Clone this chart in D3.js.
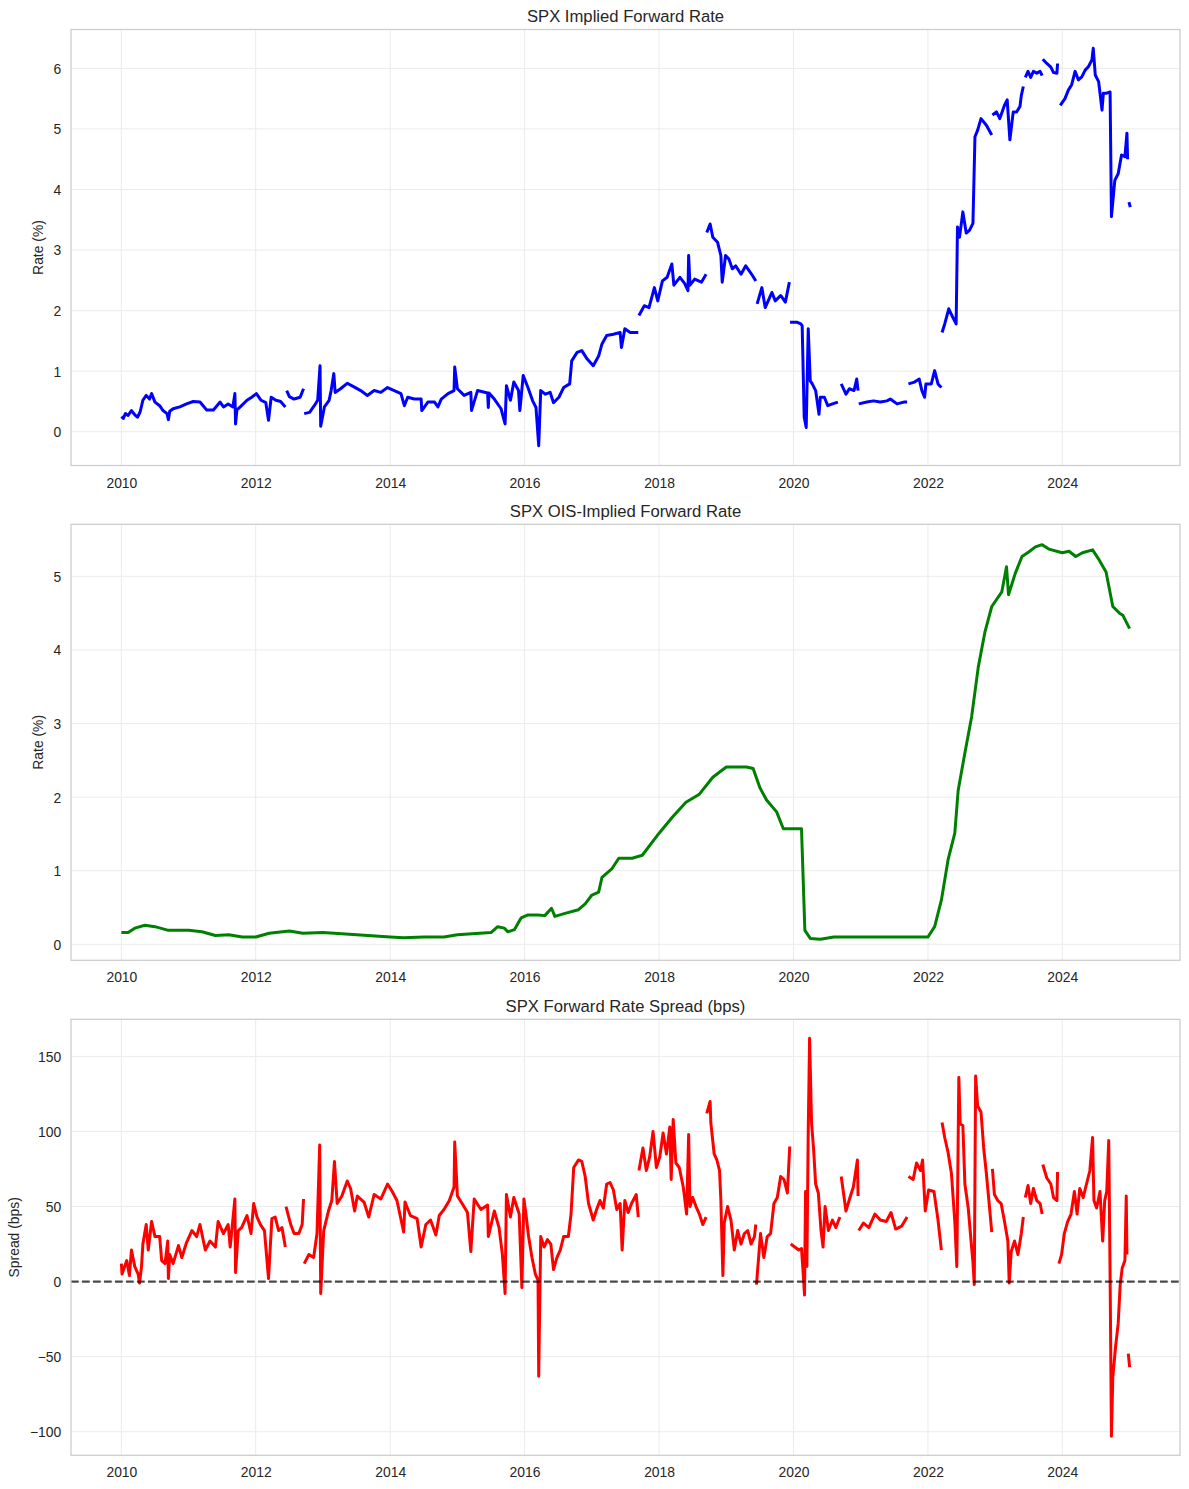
<!DOCTYPE html>
<html>
<head>
<meta charset="utf-8">
<script src="https://cdn.jsdelivr.net/npm/d3@7/dist/d3.min.js"></script>
<style>
  html, body { margin: 0; padding: 0; background: #ffffff; }
  svg { display: block; font-family: "Liberation Sans", Arial, "DejaVu Sans", sans-serif; }
</style>
</head>
<body>
<svg id="chart" width="1189" height="1489"></svg>
<script>
// decimal year, value; null value = gap in the series
var impliedRate = [
  [2010.00,0.25],[2010.03,0.22],[2010.06,0.30],[2010.10,0.27],[2010.15,0.35],[2010.20,0.28],[2010.24,0.24],
  [2010.28,0.33],[2010.32,0.52],[2010.37,0.60],[2010.42,0.54],[2010.45,0.63],[2010.50,0.49],[2010.57,0.43],
  [2010.62,0.35],[2010.68,0.30],[2010.70,0.20],[2010.72,0.34],[2010.77,0.38],[2010.87,0.41],[2010.97,0.46],
  [2011.07,0.50],[2011.17,0.49],[2011.27,0.36],[2011.37,0.36],[2011.47,0.49],[2011.52,0.41],[2011.59,0.46],
  [2011.66,0.41],[2011.69,0.63],[2011.70,0.13],[2011.72,0.36],[2011.77,0.41],[2011.87,0.52],[2011.94,0.57],
  [2012.01,0.63],[2012.08,0.52],[2012.15,0.48],[2012.19,0.19],[2012.23,0.57],[2012.30,0.52],[2012.37,0.50],
  [2012.44,0.41],[2012.445,null],
  [2012.46,0.68],[2012.50,0.58],[2012.57,0.54],[2012.66,0.57],[2012.71,0.71],[2012.715,null],
  [2012.72,0.30],[2012.80,0.32],[2012.87,0.43],[2012.92,0.52],[2012.955,1.09],[2012.965,0.09],[2013.02,0.41],
  [2013.09,0.52],[2013.12,0.68],[2013.16,0.96],[2013.18,0.65],[2013.26,0.71],[2013.36,0.80],[2013.46,0.74],
  [2013.56,0.68],[2013.66,0.60],[2013.76,0.68],[2013.86,0.65],[2013.96,0.73],[2014.06,0.68],[2014.16,0.63],
  [2014.21,0.43],[2014.26,0.57],[2014.36,0.54],[2014.46,0.54],[2014.47,0.35],[2014.56,0.49],[2014.66,0.49],
  [2014.71,0.41],[2014.76,0.54],[2014.86,0.63],[2014.95,0.68],[2014.96,1.07],[2015.00,0.71],[2015.10,0.60],
  [2015.20,0.65],[2015.21,0.35],[2015.30,0.68],[2015.45,0.64],[2015.46,0.40],[2015.47,0.64],[2015.55,0.54],
  [2015.65,0.38],[2015.71,0.13],[2015.73,0.76],[2015.79,0.52],[2015.84,0.82],[2015.91,0.68],[2015.93,0.35],
  [2015.98,0.93],[2016.05,0.73],[2016.12,0.51],[2016.17,0.40],[2016.21,-0.23],[2016.24,0.68],[2016.31,0.62],
  [2016.38,0.65],[2016.43,0.48],[2016.51,0.57],[2016.58,0.73],[2016.67,0.79],[2016.70,1.17],[2016.78,1.31],
  [2016.85,1.34],[2016.93,1.20],[2017.02,1.09],[2017.10,1.25],[2017.15,1.45],[2017.22,1.59],[2017.32,1.61],
  [2017.42,1.64],[2017.44,1.39],[2017.49,1.70],[2017.57,1.64],[2017.69,1.64],[2017.695,null],
  [2017.70,1.92],[2017.78,2.08],[2017.85,2.05],[2017.93,2.38],[2017.98,2.16],[2018.05,2.49],[2018.12,2.55],
  [2018.19,2.77],[2018.22,2.42],[2018.31,2.55],[2018.38,2.45],[2018.43,2.33],[2018.44,2.91],[2018.46,2.42],
  [2018.53,2.52],[2018.63,2.47],[2018.70,2.60],[2018.705,null],
  [2018.71,3.29],[2018.76,3.43],[2018.80,3.21],[2018.87,3.13],[2018.92,2.91],[2018.94,2.47],[2018.99,2.91],
  [2019.04,2.85],[2019.09,2.69],[2019.14,2.74],[2019.22,2.60],[2019.29,2.74],[2019.34,2.66],[2019.39,2.58],
  [2019.44,2.49],[2019.45,null],
  [2019.46,2.11],[2019.53,2.38],[2019.58,2.05],[2019.68,2.30],[2019.73,2.16],[2019.81,2.25],[2019.88,2.14],
  [2019.94,2.47],[2019.945,null],
  [2019.95,1.81],[2020.05,1.81],[2020.11,1.78],[2020.13,1.75],[2020.16,0.24],[2020.19,0.07],[2020.22,1.70],
  [2020.25,0.84],[2020.28,0.79],[2020.33,0.68],[2020.38,0.29],[2020.40,0.57],[2020.46,0.57],[2020.51,0.43],
  [2020.58,0.46],[2020.66,0.49],[2020.68,null],
  [2020.71,0.79],[2020.78,0.62],[2020.83,0.71],[2020.90,0.68],[2020.94,0.87],[2020.96,0.68],[2020.965,null],
  [2020.97,0.46],[2021.09,0.49],[2021.19,0.51],[2021.29,0.49],[2021.39,0.51],[2021.44,0.54],[2021.54,0.46],
  [2021.64,0.49],[2021.69,0.49],[2021.70,null],
  [2021.71,0.79],[2021.80,0.82],[2021.87,0.87],[2021.91,0.68],[2021.95,0.57],[2021.97,0.79],[2022.05,0.79],
  [2022.10,1.01],[2022.15,0.79],[2022.20,0.73],[2022.205,null],
  [2022.21,1.64],[2022.25,1.78],[2022.31,2.03],[2022.37,1.89],[2022.42,1.78],[2022.44,3.38],[2022.47,3.21],
  [2022.52,3.63],[2022.57,3.28],[2022.62,3.33],[2022.67,3.44],[2022.70,4.87],[2022.74,4.98],[2022.79,5.17],
  [2022.87,5.06],[2022.95,4.90],[2022.955,null],
  [2022.96,5.23],[2023.02,5.28],[2023.07,5.17],[2023.14,5.39],[2023.18,5.48],[2023.22,4.82],[2023.27,5.28],
  [2023.32,5.28],[2023.37,5.37],[2023.39,5.55],[2023.42,5.70],[2023.435,null],
  [2023.45,5.85],[2023.49,5.95],[2023.53,5.85],[2023.57,5.95],[2023.62,5.92],[2023.67,5.95],[2023.70,5.88],
  [2023.705,null],
  [2023.71,6.15],[2023.77,6.08],[2023.83,6.02],[2023.87,5.93],[2023.92,5.92],[2023.93,6.08],[2023.94,null],
  [2023.97,5.39],[2024.04,5.50],[2024.09,5.64],[2024.14,5.73],[2024.19,5.95],[2024.24,5.81],[2024.29,5.86],
  [2024.34,5.97],[2024.39,6.03],[2024.44,6.14],[2024.46,6.33],[2024.49,5.89],[2024.54,5.78],[2024.59,5.31],
  [2024.61,5.59],[2024.66,5.59],[2024.71,5.61],[2024.73,3.55],[2024.78,4.15],[2024.83,4.26],[2024.88,4.57],
  [2024.93,4.54],[2024.96,4.93],[2024.97,4.50],[2024.98,null],
  [2024.99,3.79],[2025.01,3.71]
];

var oisRate = [
  [2010.00,0.16],[2010.10,0.16],[2010.20,0.22],[2010.35,0.26],[2010.50,0.24],[2010.70,0.19],[2010.85,0.19],
  [2011.00,0.19],[2011.20,0.17],[2011.40,0.12],[2011.60,0.13],[2011.80,0.10],[2012.00,0.10],[2012.20,0.15],
  [2012.50,0.18],[2012.70,0.15],[2013.00,0.16],[2013.50,0.13],[2014.00,0.10],[2014.20,0.09],[2014.50,0.10],
  [2014.80,0.10],[2015.00,0.13],[2015.50,0.16],[2015.60,0.24],[2015.70,0.22],[2015.75,0.17],[2015.85,0.20],
  [2015.95,0.36],[2016.05,0.40],[2016.20,0.40],[2016.30,0.39],[2016.40,0.49],[2016.45,0.38],[2016.60,0.42],
  [2016.80,0.47],[2016.90,0.55],[2017.00,0.67],[2017.10,0.71],[2017.15,0.91],[2017.30,1.03],[2017.40,1.17],
  [2017.60,1.17],[2017.75,1.21],[2018.00,1.51],[2018.20,1.73],[2018.40,1.93],[2018.60,2.04],[2018.80,2.27],
  [2019.00,2.41],[2019.30,2.41],[2019.40,2.39],[2019.50,2.13],[2019.60,1.96],[2019.75,1.80],[2019.85,1.57],
  [2020.00,1.57],[2020.12,1.57],[2020.17,0.19],[2020.25,0.08],[2020.40,0.07],[2020.60,0.10],[2021.00,0.10],
  [2021.50,0.10],[2022.00,0.10],[2022.10,0.24],[2022.20,0.60],[2022.30,1.15],[2022.40,1.51],[2022.45,2.09],
  [2022.55,2.60],[2022.65,3.09],[2022.75,3.77],[2022.85,4.25],[2022.95,4.59],[2023.10,4.79],[2023.17,5.13],
  [2023.20,4.75],[2023.30,5.04],[2023.40,5.27],[2023.50,5.33],[2023.60,5.40],[2023.70,5.43],[2023.80,5.37],
  [2024.00,5.32],[2024.10,5.34],[2024.20,5.27],[2024.30,5.32],[2024.45,5.36],[2024.55,5.22],[2024.65,5.06],
  [2024.75,4.59],[2024.85,4.50],[2024.90,4.47],[2025.00,4.29]
];

var spreadBps = [
  [2010.00,12],[2010.01,5],[2010.08,14],[2010.12,4],[2010.15,21],[2010.20,10],[2010.25,5],[2010.27,-1],
  [2010.30,10],[2010.32,25],[2010.37,38],[2010.40,21],[2010.45,40],[2010.50,30],[2010.57,30],[2010.60,14],
  [2010.65,12],[2010.69,27],[2010.70,2],[2010.72,18],[2010.77,12],[2010.85,24],[2010.90,16],[2010.97,26],
  [2011.05,34],[2011.12,30],[2011.17,38],[2011.25,21],[2011.32,27],[2011.40,23],[2011.44,40],[2011.52,32],
  [2011.59,38],[2011.62,23],[2011.69,55],[2011.70,6],[2011.74,34],[2011.79,36],[2011.87,44],[2011.93,32],
  [2011.97,52],[2012.02,43],[2012.07,38],[2012.13,34],[2012.19,2],[2012.24,42],[2012.29,43],[2012.34,34],
  [2012.39,36],[2012.44,23],[2012.445,null],
  [2012.45,50],[2012.52,38],[2012.57,32],[2012.64,32],[2012.69,38],[2012.71,55],[2012.715,null],
  [2012.72,12],[2012.79,18],[2012.86,16],[2012.91,32],[2012.95,91],[2012.965,-8],[2013.01,34],[2013.08,47],
  [2013.13,54],[2013.17,80],[2013.21,52],[2013.28,57],[2013.36,67],[2013.41,62],[2013.47,47],[2013.51,57],
  [2013.61,53],[2013.68,43],[2013.76,58],[2013.86,55],[2013.96,65],[2014.03,60],[2014.10,54],[2014.20,33],
  [2014.22,53],[2014.30,44],[2014.40,42],[2014.46,23],[2014.53,38],[2014.60,41],[2014.68,31],[2014.73,44],
  [2014.80,48],[2014.88,54],[2014.95,63],[2014.96,93],[2015.00,57],[2015.07,52],[2015.15,46],[2015.20,20],
  [2015.25,55],[2015.35,48],[2015.45,51],[2015.46,30],[2015.55,47],[2015.62,36],[2015.67,18],[2015.71,-8],
  [2015.73,58],[2015.79,43],[2015.84,56],[2015.92,45],[2015.96,-4],[2015.99,55],[2016.02,45],[2016.06,30],
  [2016.11,16],[2016.16,5],[2016.20,1],[2016.21,-63],[2016.24,30],[2016.29,23],[2016.34,28],[2016.39,25],
  [2016.43,8],[2016.48,16],[2016.53,21],[2016.58,30],[2016.65,30],[2016.69,45],[2016.73,76],[2016.80,81],
  [2016.85,80],[2016.90,70],[2016.95,52],[2017.02,41],[2017.07,48],[2017.12,54],[2017.17,49],[2017.22,65],
  [2017.27,66],[2017.32,61],[2017.37,48],[2017.42,52],[2017.45,21],[2017.49,54],[2017.54,46],[2017.59,52],
  [2017.66,58],[2017.69,43],[2017.695,null],
  [2017.70,74],[2017.76,89],[2017.81,74],[2017.86,83],[2017.91,100],[2017.96,76],[2018.01,83],[2018.06,99],
  [2018.11,85],[2018.16,103],[2018.18,68],[2018.21,108],[2018.25,79],[2018.30,76],[2018.36,63],[2018.41,45],
  [2018.44,98],[2018.46,50],[2018.50,56],[2018.55,50],[2018.60,45],[2018.65,38],[2018.70,43],[2018.705,null],
  [2018.71,112],[2018.76,120],[2018.77,106],[2018.82,85],[2018.86,81],[2018.90,74],[2018.92,54],[2018.95,4],
  [2018.97,39],[2019.02,50],[2019.07,41],[2019.12,21],[2019.17,34],[2019.22,25],[2019.27,32],[2019.32,34],
  [2019.37,25],[2019.42,30],[2019.44,38],[2019.445,null],
  [2019.45,-2],[2019.51,32],[2019.56,16],[2019.61,30],[2019.66,32],[2019.71,52],[2019.76,56],[2019.81,70],
  [2019.86,68],[2019.91,59],[2019.945,90],[2019.95,null],
  [2019.96,25],[2020.02,23],[2020.08,21],[2020.12,22],[2020.15,2],[2020.165,-9],[2020.18,60],[2020.20,10],
  [2020.22,100],[2020.24,162],[2020.27,105],[2020.30,88],[2020.33,65],[2020.37,59],[2020.41,34],[2020.44,23],
  [2020.47,50],[2020.52,34],[2020.58,41],[2020.63,36],[2020.69,43],[2020.70,null],
  [2020.71,70],[2020.78,47],[2020.84,56],[2020.89,63],[2020.95,81],[2020.96,57],[2020.965,null],
  [2020.97,34],[2021.04,39],[2021.12,36],[2021.21,45],[2021.29,41],[2021.38,40],[2021.45,46],[2021.52,35],
  [2021.61,37],[2021.69,43],[2021.70,null],
  [2021.71,70],[2021.78,68],[2021.83,79],[2021.89,74],[2021.92,81],[2021.96,47],[2022.01,61],[2022.09,60],
  [2022.15,41],[2022.20,21],[2022.205,null],
  [2022.21,106],[2022.25,96],[2022.30,86],[2022.35,72],[2022.40,40],[2022.43,10],[2022.46,136],[2022.48,105],
  [2022.52,104],[2022.55,65],[2022.60,49],[2022.65,23],[2022.67,13],[2022.69,-2],[2022.71,137],[2022.74,117],
  [2022.79,113],[2022.83,89],[2022.87,72],[2022.92,48],[2022.95,33],[2022.955,null],
  [2022.96,75],[2022.99,58],[2023.04,54],[2023.09,52],[2023.14,40],[2023.19,27],[2023.21,-1],[2023.24,20],
  [2023.29,27],[2023.34,18],[2023.39,32],[2023.42,43],[2023.435,null],
  [2023.45,56],[2023.49,64],[2023.53,52],[2023.57,62],[2023.62,54],[2023.67,52],[2023.70,45],[2023.705,null],
  [2023.71,78],[2023.77,69],[2023.83,65],[2023.87,56],[2023.92,54],[2023.93,73],[2023.94,null],
  [2023.95,12],[2023.99,18],[2024.03,32],[2024.08,40],[2024.13,45],[2024.18,60],[2024.22,45],[2024.26,62],
  [2024.31,56],[2024.36,65],[2024.41,74],[2024.45,96],[2024.47,54],[2024.51,49],[2024.56,60],[2024.60,27],
  [2024.63,54],[2024.66,60],[2024.69,94],[2024.71,5],[2024.73,-103],[2024.75,-64],[2024.79,-44],[2024.83,-28],
  [2024.86,-2],[2024.89,9],[2024.93,14],[2024.95,57],[2024.96,18],[2024.97,null],
  [2024.98,-48],[2025.00,-57]
];

var panelTitles = ["SPX Implied Forward Rate", "SPX OIS-Implied Forward Rate", "SPX Forward Rate Spread (bps)"];
var panelYLabels = ["Rate (%)", "Rate (%)", "Spread (bps)"];
var panelYTicks = [[0, 1, 2, 3, 4, 5, 6], [0, 1, 2, 3, 4, 5], [-100, -50, 0, 50, 100, 150]];
var yearTicks = [2010, 2012, 2014, 2016, 2018, 2020, 2022, 2024];

(function () {
  'use strict';

  var svg = d3.select("#chart");
  var left = 71, right = 1180, panelH = 436;
  var tops = [29.5, 524.3, 1019.3];
  // y limits as matplotlib picked them (5% margin around the data)
  var yDomains = [[-0.557, 6.641], [-0.217, 5.707], [-115.7, 174.7]];
  var yLabelX = [43, 43, 19.3];
  var colors = ["#0000ff", "#008000", "#ff0000"];
  var series = [impliedRate, oisRate, spreadBps];

  var textColor = "#262626";

  function yearToDate(y) {
    var yr = Math.floor(y);
    var a = new Date(yr, 0, 1).getTime();
    var b = new Date(yr + 1, 0, 1).getTime();
    return new Date(a + (y - yr) * (b - a));
  }

  var x = d3.scaleTime()
    .domain([yearToDate(2009.25), yearToDate(2025.75)])
    .range([left, right]);

  series.forEach(function (data, i) {
    var top = tops[i], bottom = top + panelH;
    var y = d3.scaleLinear().domain(yDomains[i]).range([bottom, top]);
    var g = svg.append("g");

    // clip for the data lines
    g.append("clipPath").attr("id", "clip" + i)
      .append("rect")
      .attr("x", left).attr("y", top)
      .attr("width", right - left).attr("height", panelH);

    // grid
    g.append("g")
      .selectAll("line")
      .data(yearTicks)
      .join("line")
      .attr("x1", function (d) { return x(yearToDate(d)); })
      .attr("x2", function (d) { return x(yearToDate(d)); })
      .attr("y1", top).attr("y2", bottom)
      .attr("stroke", "#ebebeb").attr("stroke-width", 1);

    g.append("g")
      .selectAll("line")
      .data(panelYTicks[i])
      .join("line")
      .attr("x1", left).attr("x2", right)
      .attr("y1", function (d) { return y(d); })
      .attr("y2", function (d) { return y(d); })
      .attr("stroke", "#ebebeb").attr("stroke-width", 1);

    // x axis tick labels
    var xAxis = d3.axisBottom(x)
      .tickValues(yearTicks.map(yearToDate))
      .tickFormat(d3.timeFormat("%Y"))
      .tickSize(0)
      .tickPadding(0);
    var gx = g.append("g").attr("transform", "translate(0," + bottom + ")").call(xAxis);
    gx.select(".domain").remove();
    gx.selectAll("text")
      .attr("y", 22).attr("dy", null)
      .attr("fill", textColor)
      .style("font-size", "13.9px")
      .style("font-family", "'Liberation Sans', Arial, sans-serif");

    // y axis tick labels
    var yAxis = d3.axisLeft(y)
      .tickValues(panelYTicks[i])
      .tickFormat(d3.format("d"))
      .tickSize(0)
      .tickPadding(0);
    var gy = g.append("g").attr("transform", "translate(" + left + ",0)").call(yAxis);
    gy.select(".domain").remove();
    gy.selectAll("text")
      .attr("x", -9.8).attr("dy", "0.35em")
      .attr("fill", textColor)
      .style("font-size", "13.9px")
      .style("font-family", "'Liberation Sans', Arial, sans-serif");

    // data line, gaps where the value is null
    var line = d3.line()
      .defined(function (d) { return d[1] !== null; })
      .x(function (d) { return x(yearToDate(d[0])); })
      .y(function (d) { return y(d[1]); });

    g.append("path")
      .datum(data)
      .attr("clip-path", "url(#clip" + i + ")")
      .attr("fill", "none")
      .attr("stroke", colors[i])
      .attr("stroke-width", 3)
      .attr("stroke-linejoin", "round")
      .attr("d", line);

    // zero line on the spread panel
    if (i === 2) {
      g.append("line")
        .attr("x1", left).attr("x2", right)
        .attr("y1", y(0)).attr("y2", y(0))
        .attr("stroke", "#000000").attr("stroke-opacity", 0.7)
        .attr("stroke-width", 2.1)
        .attr("stroke-dasharray", "7.7,3.3");
    }

    // frame
    g.append("rect")
      .attr("x", left).attr("y", top)
      .attr("width", right - left).attr("height", panelH)
      .attr("fill", "none")
      .attr("stroke", "#cccccc").attr("stroke-width", 1.25);

    // title
    g.append("text")
      .attr("x", (left + right) / 2).attr("y", top - 7.3)
      .attr("text-anchor", "middle")
      .attr("fill", textColor)
      .style("font-size", "16.67px")
      .text(panelTitles[i]);

    // y label
    g.append("text")
      .attr("transform", "translate(" + yLabelX[i] + "," + (top + panelH / 2) + ") rotate(-90)")
      .attr("text-anchor", "middle")
      .attr("fill", textColor)
      .style("font-size", "13.9px")
      .text(panelYLabels[i]);
  });
}());
</script>
</body>
</html>
